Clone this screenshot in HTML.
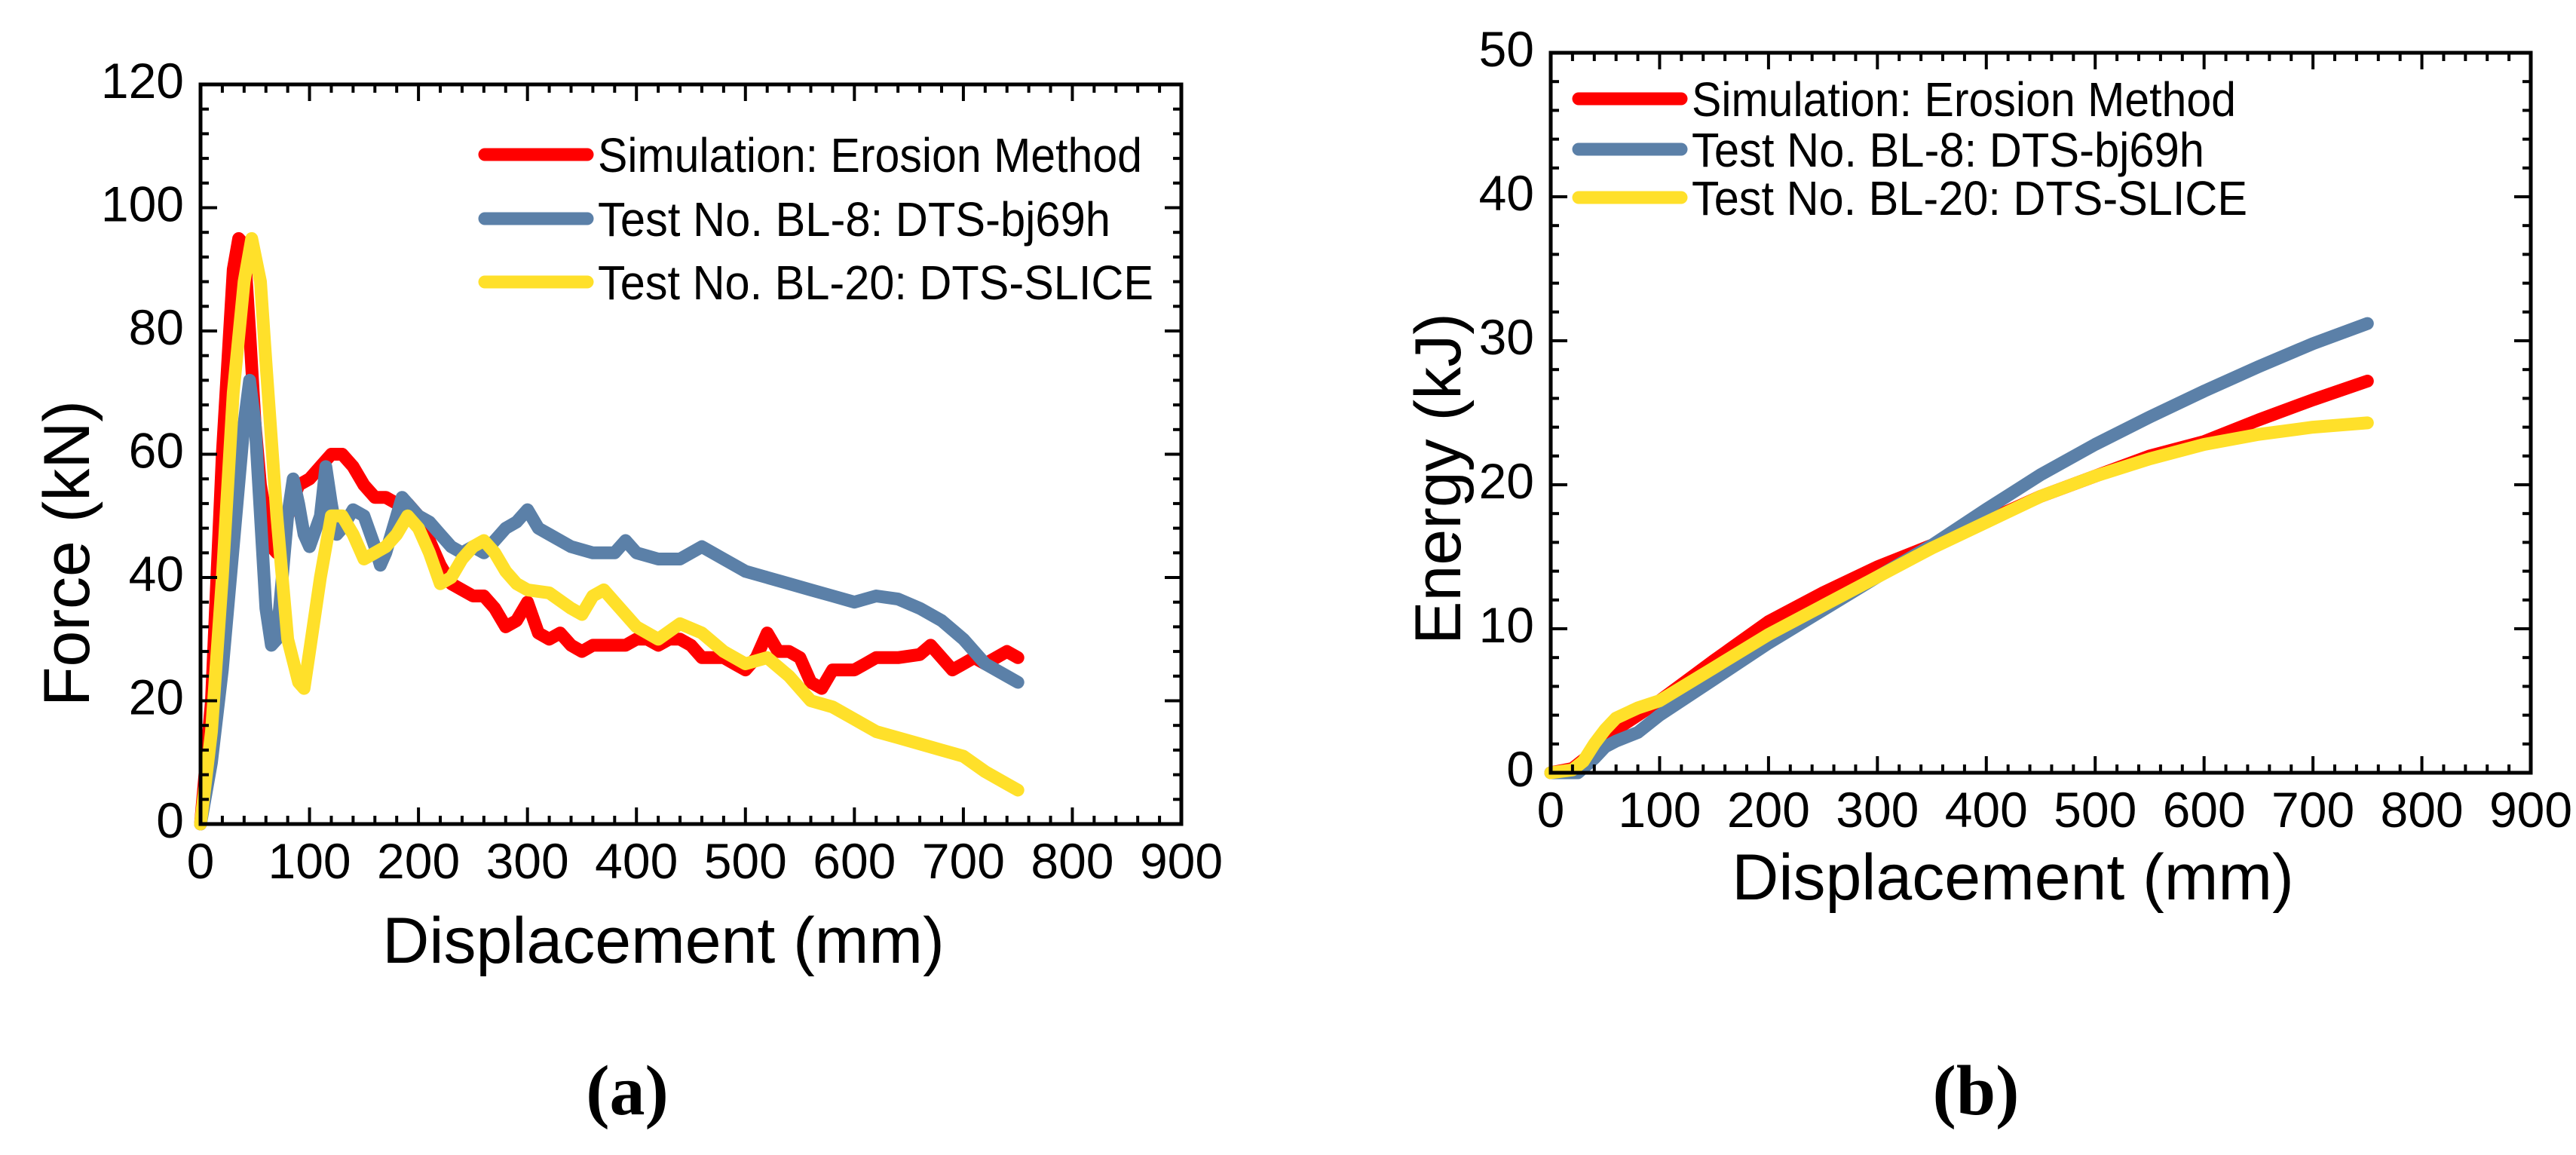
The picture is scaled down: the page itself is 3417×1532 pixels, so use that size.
<!DOCTYPE html>
<html><head><meta charset="utf-8"><style>
html,body{margin:0;padding:0;background:#fff;}
svg{display:block;}
text{font-family:"Liberation Sans",sans-serif;fill:#000;}
</style></head><body>
<svg id="fig" width="3417" height="1532" viewBox="0 0 3417 1532" xmlns="http://www.w3.org/2000/svg">
<text x="832" y="1478" text-anchor="middle" style="font-family:'Liberation Serif',serif;font-weight:bold;font-size:94px">(a)</text>
<text x="2621" y="1478" text-anchor="middle" style="font-family:'Liberation Serif',serif;font-weight:bold;font-size:94px">(b)</text>
</svg>
<script>
// ---- Panel (a): Force vs displacement ----
const forceSimX = [0,10,20,30,35,40,45,50,55,60,65,70,80,90,100,110,120,130,140,150,160,170,180,190,200,210,220,230,240,250,260,270,280,290,300,310,320,330,340,350,360,370,380,390,400,410,420,430,440,450,460,470,480,490,500,510,520,530,540,550,560,570,580,590,600,610,620,640,660,670,680,690,700,710,720,730,740,750];
const forceSimY = [0,20,60,90,95,94,80,65,55,50,45,44,50,55,56,58,60,60,58,55,53,53,52,52,50,46,42,39,38,37,37,35,32,33,36,31,30,31,29,28,29,29,29,29,30,30,29,30,30,29,27,27,27,26,25,27,31,28,28,27,23,22,25,25,25,26,27,27,27.5,29,27,25,26,27,26,27,28,27];
const forceBL8X = [0,10,20,30,40,45,50,55,60,65,70,75,80,85,90,95,100,110,115,120,125,130,140,150,160,165,170,180,185,190,200,210,220,230,240,250,260,270,280,290,300,310,320,340,360,380,390,400,420,440,460,480,500,520,540,560,580,600,620,640,660,680,700,720,740,750];
const forceBL8Y = [0,10,25,45,65,72,65,50,35,29,30,40,50,56,52,47,45,50,58,52,47,48,51,50,45,42,44,50,53,52,50,49,47,45,44,45,44,46,48,49,51,48,47,45,44,44,46,44,43,43,45,43,41,40,39,38,37,36,37,36.5,35,33,30,26,24,23];
const forceBL20X = [0,10,20,30,40,47,55,60,70,80,90,95,100,110,120,130,140,150,160,170,180,190,200,210,220,230,240,250,260,270,280,290,300,320,340,350,360,370,380,400,420,440,460,480,500,520,540,560,580,600,620,640,660,680,700,720,740,750];
const forceBL20Y = [0,15,40,70,88,95,88,75,50,30,23,22,28,40,50,50,47,43,44,45,47,50,48,44,39,40,43,45,46,44,41,39,38,37.5,35,34,37,38,36,32,30,32.5,31,28,26,27,24,20,19,17,15,14,13,12,11,8.5,6.5,5.5];
const forceYTicks = [0,20,40,60,80,100,120];
const dispTicks = [0,100,200,300,400,500,600,700,800,900];
// ---- Panel (b): Energy vs displacement ----
const energyX = [0,20,40,50,60,80,100,150,200,250,300,350,400,450,500,550,600,650,700,750];
const energySimY = [0,0.3,1.5,2.5,3,4,5,7.8,10.5,12.5,14.3,15.8,17.5,19.2,20.6,22,23,24.5,25.9,27.2];
const energyBL8X = [0,25,40,50,60,80,100,150,200,250,300,350,400,450,500,550,600,650,700,750];
const energyBL8Y = [0,0,1,1.8,2.2,2.8,4,6.5,9,11.3,13.6,15.8,18.3,20.7,22.8,24.7,26.5,28.2,29.8,31.2];
const energyBL20X = [0,20,30,40,50,60,80,100,150,200,250,300,350,400,450,500,550,600,650,700,750];
const energyBL20Y = [0,0.2,0.8,2,3,3.8,4.5,5,7.3,9.6,11.6,13.6,15.6,17.4,19.2,20.6,21.8,22.8,23.5,24,24.3];
const energyYTicks = [0,10,20,30,40,50];
const legendLabels = ["Simulation: Erosion Method","Test No. BL-8: DTS-bj69h","Test No. BL-20: DTS-SLICE"];

const NS = "http://www.w3.org/2000/svg";
const svg = document.getElementById('fig');
const COLORS = ["#ff0000","#5b80a8","#ffe02a"];
const LEG_W = [722, 680, 737];
function mk(tag, attrs, parent){
  const e = document.createElementNS(NS, tag);
  for (const k in attrs) e.setAttribute(k, attrs[k]);
  (parent||svg).appendChild(e);
  return e;
}
function panel(o){
  const g = mk('g', {});
  
  
  const sx = v => o.x0 + (v - 0) / 900 * (o.x1 - o.x0);
  const sy = v => o.yb - v / o.ymax * (o.yb - o.yt);
  o.series.forEach((s, i) => {
    const d = s.x.map((xv, j) => (j ? 'L' : 'M') + sx(xv).toFixed(1) + ',' + sy(s.y[j]).toFixed(1)).join(' ');
    const p = mk('path', {d: d, fill: 'none', stroke: COLORS[i], 'stroke-width': 17, 'stroke-linejoin': 'round', 'stroke-linecap': 'round'}, g);
    
    
  });
  const fr = mk('rect', {x: o.x0, y: o.yt, width: o.x1 - o.x0, height: o.yb - o.yt, fill: 'none', stroke: '#000', 'stroke-width': 5}, g);
  
  
  for (let v = 0; v <= 900; v += 20) {
    const big = v % 100 === 0; const L = big ? 22 : 11; const X = sx(v);
    mk('line', {x1: X, x2: X, y1: o.yb, y2: o.yb - L, stroke: '#000', 'stroke-width': 4}, g);
    mk('line', {x1: X, x2: X, y1: o.yt, y2: o.yt + L, stroke: '#000', 'stroke-width': 4}, g);
  }
  for (let v = 0; v <= o.ymax + 1e-9; v += o.yminor) {
    const big = Math.abs(v / o.ymajor - Math.round(v / o.ymajor)) < 1e-6; const L = big ? 22 : 11; const Y = sy(v);
    mk('line', {x1: o.x0, x2: o.x0 + L, y1: Y, y2: Y, stroke: '#000', 'stroke-width': 4}, g);
    mk('line', {x1: o.x1, x2: o.x1 - L, y1: Y, y2: Y, stroke: '#000', 'stroke-width': 4}, g);
  }
  dispTicks.forEach(v => {
    const t = mk('text', {x: sx(v), y: o.yb + 72, 'text-anchor': 'middle', 'font-size': 66}, g);
    t.textContent = v;
    
    
  });
  o.yticks.forEach(v => {
    const t = mk('text', {x: o.x0 - 22, y: sy(v) + 18, 'text-anchor': 'end', 'font-size': 66}, g);
    t.textContent = v;
    
    
  });
  const xt = mk('text', {x: o.xtx, y: o.xty, 'text-anchor': 'middle', 'font-size': 86}, g);
  xt.textContent = 'Displacement (mm)';
  
  
  const yt = mk('text', {x: 0, y: 0, 'text-anchor': 'middle', 'font-size': 86, transform: 'translate(' + o.ytx + ',' + o.yty + ') rotate(-90)'}, g);
  yt.textContent = o.ytitle;
  
  
  legendLabels.forEach((lab, i) => {
    const Y = o.legY[i];
    const ln = mk('line', {x1: o.legX, x2: o.legX + 136, y1: Y, y2: Y, stroke: COLORS[i], 'stroke-width': 17, 'stroke-linecap': 'round'}, g);
    
    
    const t = mk('text', {x: o.legX + 150, y: Y + 23, 'font-size': 64, textLength: LEG_W[i], lengthAdjust: 'spacingAndGlyphs'}, g);
    t.textContent = lab;
    
    
  });
}
panel({name: 'force-chart', x0: 266, x1: 1567, yt: 112, yb: 1093, ymax: 120, ymajor: 20, yminor: 4,
  yticks: forceYTicks, ytitle: 'Force (kN)', ytx: 118, yty: 734, xtx: 880, xty: 1277,
  legX: 643, legY: [205, 290, 374],
  series: [{name: 'simulation-force-line', x: forceSimX, y: forceSimY},
           {name: 'bl8-force-line', x: forceBL8X, y: forceBL8Y},
           {name: 'bl20-force-line', x: forceBL20X, y: forceBL20Y}]});
panel({name: 'energy-chart', x0: 2057, x1: 3357, yt: 70, yb: 1025, ymax: 50, ymajor: 10, yminor: 2,
  yticks: energyYTicks, ytitle: 'Energy (kJ)', ytx: 1937, yty: 635, xtx: 2670, xty: 1193,
  legX: 2094, legY: [131, 198, 262],
  series: [{name: 'simulation-energy-line', x: energyX, y: energySimY},
           {name: 'bl8-energy-line', x: energyBL8X, y: energyBL8Y},
           {name: 'bl20-energy-line', x: energyBL20X, y: energyBL20Y}]});
</script>
</body></html>
